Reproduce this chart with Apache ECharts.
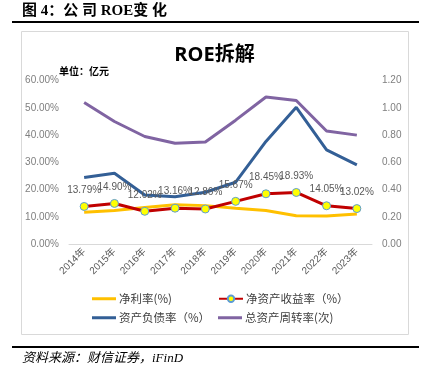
<!DOCTYPE html>
<html><head><meta charset="utf-8">
<script src="https://cdn.jsdelivr.net/npm/echarts@6/dist/echarts.min.js"></script>
<style>html,body{margin:0;padding:0;background:#fff}#c{width:429px;height:378px}</style>
</head><body><div id="c"></div>
<script>
const years = ['2014年','2015年','2016年','2017年','2018年','2019年','2020年','2021年','2022年','2023年'];
const netMargin = [11.7, 12.3, 13.4, 14.4, 14.1, 13.1, 12.3, 10.4, 10.3, 11.0];
const roe = [13.79, 14.90, 12.02, 13.16, 12.86, 15.67, 18.45, 18.93, 14.05, 13.02];
const debtRatio = [24.4, 26.0, 18.0, 17.4, 19.0, 22.7, 37.7, 50.2, 34.6, 29.1];
const turnover = [1.04, 0.90, 0.79, 0.74, 0.75, 0.91, 1.08, 1.055, 0.83, 0.80];
const leftTicks = {min: 0, max: 60, interval: 10};
const rightTicks = {min: 0, max: 1.2, interval: 0.2};
const names = ['净利率(%)', '净资产收益率（%）', '资产负债率（%）', '总资产周转率(次)'];

const chart = echarts.init(document.getElementById('c'), null, {renderer: 'canvas'});
const gray = '#7f7f7f';
const legendText = {fontSize: 11.5, color: '#404040', fontFamily: 'Noto Sans CJK SC', padding: [0, 0, 0, -2]};
function lg(name, left, top, plain) {
  const o = {data: [name], left: left, top: top, itemWidth: 24, itemHeight: plain ? 3 : 8, textStyle: legendText, selectedMode: false, padding: 0};
  if (plain) o.icon = 'rect';
  return o;
}
chart.setOption({
  animation: false,
  textStyle: {fontFamily: '"Liberation Sans", "Noto Sans CJK SC", sans-serif'},
  graphic: [
    {type: 'text', left: 22, top: 4, style: {text: '图 4：公 司 ROE变 化', font: 'bold 15px "Liberation Serif", "Noto Sans CJK SC"', fill: '#000'}},
    {type: 'line', shape: {x1: 12, y1: 22, x2: 419, y2: 22}, style: {stroke: '#000', lineWidth: 2}},
    {type: 'rect', shape: {x: 21.5, y: 31.5, width: 387, height: 303}, style: {fill: 'none', stroke: '#d9d9d9', lineWidth: 1}},
    {type: 'line', shape: {x1: 12, y1: 347, x2: 419, y2: 347}, style: {stroke: '#000', lineWidth: 2}},
    {type: 'text', left: 22, top: 352, style: {text: '资料来源：财信证券，iFinD', font: 'italic 13px "Liberation Serif", "Noto Sans CJK SC"', fill: '#000'}},
    {type: 'text', left: 59, top: 66, style: {text: '单位：亿元', font: 'bold 10px "Noto Sans CJK SC"', fill: '#000'}}
  ],
  title: {text: 'ROE拆解', left: 'center', top: 40, textStyle: {fontSize: 20, fontWeight: 'bold', color: '#000', fontFamily: '"Open Sans", "Noto Sans CJK SC"'}},
  legend: [lg(names[0], 92, 293, true), lg(names[1], 218, 293, false), lg(names[2], 92, 312, true), lg(names[3], 218, 312, true)],
  grid: {left: 69, right: 57, top: 80.7, bottom: 134},
  xAxis: {
    type: 'category', data: years, boundaryGap: true,
    axisLine: {lineStyle: {color: '#d9d9d9', width: 1}}, axisTick: {show: false},
    axisLabel: {rotate: 45, color: '#595959', fontSize: 10, margin: 6, interval: 0}
  },
  yAxis: [
    {type: 'value', min: leftTicks.min, max: leftTicks.max, interval: leftTicks.interval,
     splitLine: {show: false}, axisLine: {show: false}, axisTick: {show: false},
     axisLabel: {color: gray, fontSize: 10, margin: 10, formatter: v => v.toFixed(2) + '%'}},
    {type: 'value', min: rightTicks.min, max: rightTicks.max, interval: rightTicks.interval,
     splitLine: {show: false}, axisLine: {show: false}, axisTick: {show: false},
     axisLabel: {color: gray, fontSize: 10, margin: 10, formatter: v => v.toFixed(2)}}
  ],
  series: [
    {name: names[0], type: 'line', data: netMargin, yAxisIndex: 0, showSymbol: false, symbol: 'none',
     lineStyle: {color: '#FFC000', width: 3}, itemStyle: {color: '#FFC000'}},
    {name: names[1], type: 'line', data: roe, yAxisIndex: 0, symbol: 'circle', symbolSize: 8,
     lineStyle: {color: '#C00000', width: 3}, itemStyle: {color: '#FFFF00', borderColor: '#5B9BD5', borderWidth: 1},
     label: {show: true, position: 'top', distance: 7, color: '#595959', fontSize: 10, formatter: p => p.value.toFixed(2) + '%'}},
    {name: names[2], type: 'line', data: debtRatio, yAxisIndex: 0, symbol: 'none',
     lineStyle: {color: '#335F96', width: 3}, itemStyle: {color: '#335F96'}},
    {name: names[3], type: 'line', data: turnover, yAxisIndex: 1, symbol: 'none',
     lineStyle: {color: '#8064A2', width: 3}, itemStyle: {color: '#8064A2'}}
  ]
});
</script></body></html>
